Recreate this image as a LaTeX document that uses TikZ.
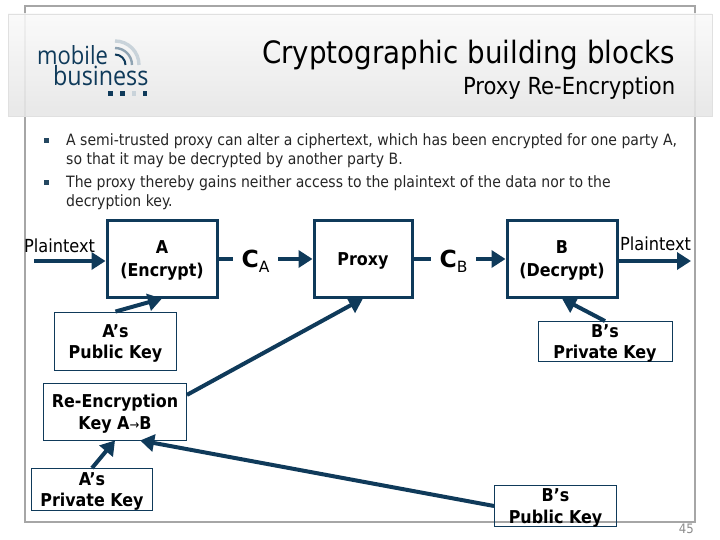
\documentclass[tikz,border=0pt]{standalone}
\usepackage{fontspec}
\setmainfont{DejaVu Sans}
\newfontfamily\cond{DejaVu Sans Condensed}
\newfontfamily\logof[FakeStretch=0.88]{Open Sans}
\usetikzlibrary{arrows.meta}
\definecolor{navy}{HTML}{0F3A5A}
\definecolor{arcmid}{HTML}{8FA3B2}
\definecolor{arclight}{HTML}{C9D3DA}
\definecolor{frameg}{HTML}{A6A6A6}
\newcommand\tx[2]{\rule{0pt}{20pt}#1\rule[-#2pt]{0pt}{#2pt}}
\newcommand\ty[2]{\rule{0pt}{15pt}#1\\\smash{#2}\rule[-2pt]{0pt}{2pt}}
\tikzset{
 bigbox/.style={draw=navy,line width=3pt,inner sep=0pt,align=center,font=\cond\bfseries\fontsize{17.7}{22}\selectfont},
 keybox/.style={draw=navy,line width=0.9pt,inner sep=0pt,align=center,font=\cond\bfseries\fontsize{17.7}{21.5}\selectfont},
 flow/.style={draw=navy,line width=4pt,-{Triangle[length=14pt,width=17pt]}},
 stub/.style={draw=navy,line width=4pt},
 plainlbl/.style={anchor=base west,font=\cond\fontsize{18}{18}\selectfont,inner sep=0pt},
 cipher/.style={inner sep=0pt,minimum width=45pt,text height=16pt,text depth=0pt},
 body/.style={anchor=base west,font=\cond\fontsize{15.6}{16}\selectfont,inner sep=0pt,text=black!85},
 bul/.style={fill=navy!80!gray,inner sep=0pt,minimum size=5pt},
 logot/.style={anchor=base west,inner sep=0pt,text=navy},
}
\newcommand\cipherlabel[1]{{\bfseries\fontsize{23.5}{24}\selectfont C}\raisebox{-5.5pt}{\fontsize{15.5}{16}\selectfont #1}}
\begin{document}
\begin{tikzpicture}[x=1pt,y=-1pt]
\useasboundingbox (0,0) rectangle (720,540);
\fill[white] (0,0) rectangle (720,540);
% slide frame
\draw[frameg,line width=2.4pt] (25,6) rectangle (695,522);
% header band
\shade[top color=white!98!black,bottom color=white!90!black,fill opacity=.88,draw=black!12,line width=.5pt] (8,14) rectangle (712,116);
% logo
\draw[arclight,line width=3.4pt] (115,41) arc[start angle=-90,end angle=0,radius=24];
\draw[arcmid,line width=2.4pt] (115,48) arc[start angle=-90,end angle=0,radius=17];
\draw[navy,line width=2pt] (115,54.5) arc[start angle=-90,end angle=0,radius=10.5];
\node[logot,font=\logof\fontsize{25}{25}\selectfont] (logoa) at (37,65) {mobile};
\node[logot,font=\logof\fontsize{26.5}{26.5}\selectfont] (logob) at (53,86) {business};
\fill[navy] (108,91) rectangle (113,96);
\fill[navy] (120,91) rectangle (124.5,96);
\fill[arclight] (131.5,91) rectangle (136,96);
\fill[navy] (143,91) rectangle (147,96);
% titles
\node[anchor=base east,inner sep=0pt,font=\cond\fontsize{30.8}{31}\selectfont] (title) at (675.5,64) {Cryptographic building blocks};
\node[anchor=base east,inner sep=0pt,font=\cond\fontsize{23.5}{24}\selectfont] (subtitle) at (675.5,95) {Proxy Re-Encryption};
% bullets
\node[bul] (b1) at (46.5,140.5) {};
\node[bul] (b2) at (46.5,182.5) {};
\node[body] (l1) at (66,146) {A semi-trusted proxy can alter a ciphertext, which has been encrypted for one party A,};
\node[body] (l2) at (66,165) {so that it may be decrypted by another party B.};
\node[body] (l3) at (66,188) {The proxy thereby gains neither access to the plaintext of the data nor to the};
\node[body] (l4) at (66,207) {decryption key.};
% main row
\node[bigbox,minimum width=110pt,minimum height=76pt] (enc) at (162,259) {\tx{A\\(Encrypt)}{8}};
\node[bigbox,minimum width=98pt,minimum height=76pt] (proxy) at (363,259) {\tx{Proxy}{8}};
\node[bigbox,minimum width=110pt,minimum height=76pt] (dec) at (562,259) {\tx{B\\(Decrypt)}{8}};
\node[cipher] (ca) at (255.5,259) {\cipherlabel{A}};
\node[cipher] (cb) at (453.5,259) {\cipherlabel{B}};
\node[plainlbl] (pl) at (24,252.5) {Plaintext};
\node[plainlbl] (pr) at (620,250.5) {Plaintext};
% key boxes
\node[keybox,minimum width=122pt,minimum height=58pt] (apub) at (115.5,341) {\tx{A’s\\Public Key}{6.5}};
\node[keybox,minimum width=143pt,minimum height=57pt] (rek) at (115,411.5) {\tx{Re-Encryption\\Key A{\mdseries\fontsize{13}{13}\selectfont→}B}{6.5}};
\node[keybox,minimum width=121pt,minimum height=42pt] (apriv) at (92,489.5) {\ty{A’s}{Private Key}};
\node[keybox,minimum width=134pt,minimum height=40pt] (bpriv) at (605,341.5) {\ty{B’s}{Private Key}};
\node[keybox,minimum width=122pt,minimum height=41.5pt] (bpub) at (555.5,506) {\ty{B’s}{Public Key}};
% connectors
\coordinate (pin) at (34,261);
\coordinate (pout) at (691,261);
\draw[flow] (pin) -- (pin -| enc.west);
\draw[stub] (enc.east) -- (ca.west);
\draw[flow] (ca.east) -- (proxy.west);
\draw[stub] (proxy.east) -- (cb.west);
\draw[flow] (cb.east) -- (dec.west);
\draw[flow] (pout -| dec.east) -- (pout);
\draw[flow] (apub.north) -- (enc.south);
\draw[flow] (rek.13) -- (proxy.south);
\draw[flow] (apriv.north) -- (rek.south);
\draw[flow] (bpub.west) -- (rek.-49);
\draw[flow] (bpriv.north) -- (dec.south);
% page number
\node[anchor=base east,inner sep=0pt,text=black!45,font=\cond\fontsize{13}{13}\selectfont] (pg) at (694,533) {45};
\end{tikzpicture}
\end{document}
